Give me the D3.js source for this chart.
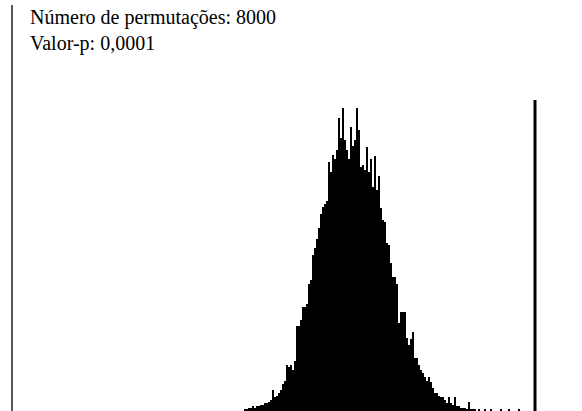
<!DOCTYPE html>
<html>
<head>
<meta charset="utf-8">
<script src="https://cdn.jsdelivr.net/npm/d3@7"></script>
<style>
  html, body { margin: 0; padding: 0; background: #fff; }
  svg { display: block; }
</style>
</head>
<body>
<svg id="chart" width="582" height="411"></svg>
<script>
// Permutation distribution of the test statistic (counts per bin)
const firstBin = 116;      // index of the first bin on the statistic axis
const binWidth = 1;        // bin width in statistic units
const counts = [
  1, 1, 2, 2, 3, 2, 3, 3, 4, 4, 5, 5, 6, 7,
  14, 9, 10, 12, 14, 18, 20, 30, 29, 30, 27, 33, 56, 56, 60,
  68, 68, 70, 83, 86, 102, 107, 113, 120, 129, 134, 136, 138, 163, 157,
  168, 165, 171, 192, 179, 199, 178, 171, 165, 186, 174, 178, 199, 184, 160,
  161, 158, 173, 157, 165, 147, 167, 145, 154, 133, 125, 124, 110, 109, 97,
  88, 88, 83, 58, 65, 65, 65, 48, 43, 47, 52, 35, 35, 30, 27,
  25, 22, 20, 22, 19, 15, 12, 12, 10, 9, 9, 7, 5, 9, 5,
  4, 9, 3, 3, 2, 2, 2, 1, 6, 1, 1,
  1, 0, 1, 0, 0, 1, 0, 0, 1, 0, 0, 0, 0, 1, 0, 0, 0, 1, 0, 0, 0, 0, 1
];
const observed = 261.5;    // observed statistic
const infoLines = ["Número de permutações: 8000", "Valor-p: 0,0001"];

const W = 582, H = 411;
const svg = d3.select("#chart");

const x = d3.scaleLinear().domain([0, 285]).range([12, 582]);
const y = d3.scaleLinear().domain([0, 200]).range([411, 106]);

const bins = counts.map((c, i) => ({ x0: firstBin + i * binWidth, x1: firstBin + (i + 1) * binWidth, n: c }));

// histogram bars
svg.append("g")
  .attr("shape-rendering", "crispEdges")
  .selectAll("rect")
  .data(bins)
  .join("rect")
  .attr("x", d => x(d.x0))
  .attr("width", d => x(d.x1) - x(d.x0))
  .attr("y", d => y(d.n))
  .attr("height", d => y(0) - y(d.n))
  .attr("fill", "#000");

// left axis line
svg.append("line")
  .attr("x1", x(0)).attr("x2", x(0))
  .attr("y1", 5).attr("y2", H)
  .attr("stroke", "#555").attr("stroke-width", 2);

// observed value
svg.append("line")
  .attr("x1", x(observed)).attr("x2", x(observed))
  .attr("y1", y(204)).attr("y2", H)
  .attr("stroke", "#000").attr("stroke-width", 3);

// summary text
svg.append("g")
  .selectAll("text")
  .data(infoLines)
  .join("text")
  .attr("x", 30)
  .attr("y", (d, i) => 24 + i * 26)
  .attr("font-family", "'Liberation Serif', 'Times New Roman', serif")
  .attr("font-size", 20)
  .attr("fill", "#000")
  .text(d => d);
</script>
</body>
</html>
